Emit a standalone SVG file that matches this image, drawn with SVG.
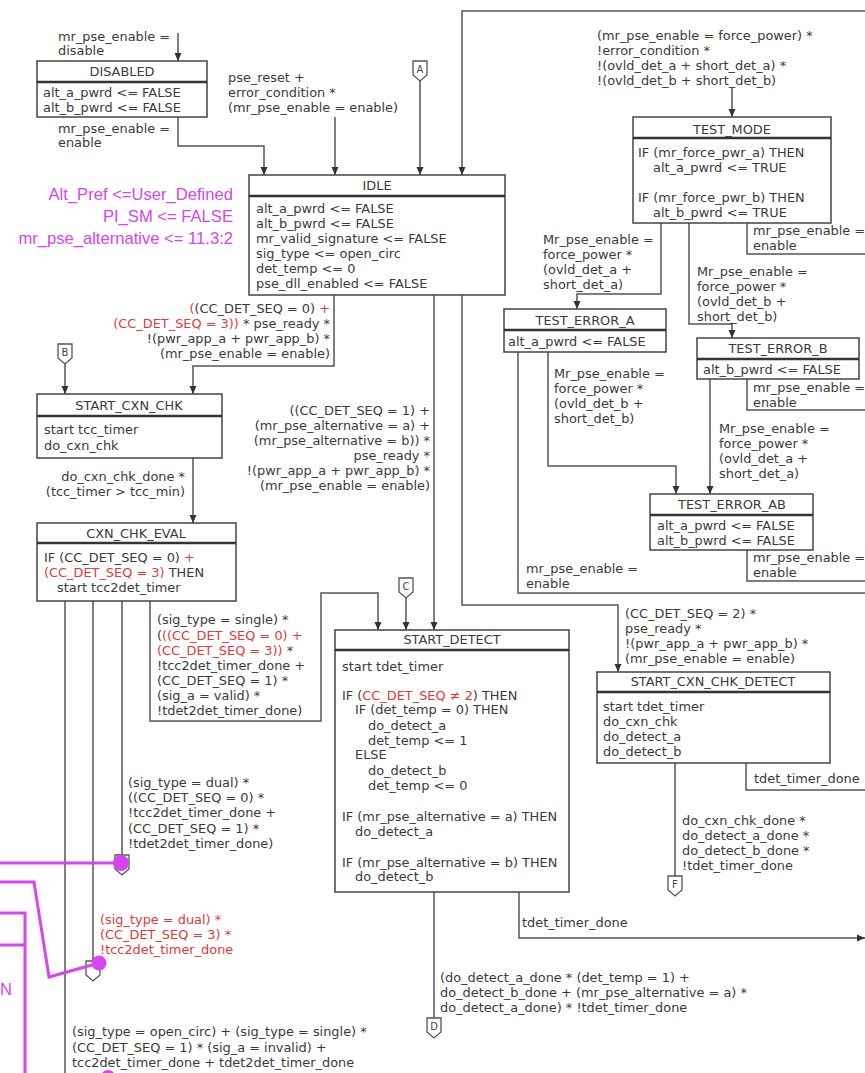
<svg xmlns="http://www.w3.org/2000/svg" width="865" height="1073" viewBox="0 0 865 1073">
<style>
.t{font-family:"DejaVu Sans",Verdana,sans-serif;font-size:12.9px;fill:#3a3a3a}
.c{text-anchor:middle}
.e{text-anchor:end}
.r{fill:#e03a3a}
.box{fill:#fff;stroke:#444;stroke-width:1.5}
.hd{stroke:#333;stroke-width:2.5}
.ln{fill:none;stroke:#555;stroke-width:1.5}
.cn{fill:#fff;stroke:#555;stroke-width:1.3}
.cl{font-family:"DejaVu Sans",Verdana,sans-serif;font-size:10px;fill:#444;text-anchor:middle}
.mg{fill:none;stroke:#d545f0;stroke-width:3}
.md{fill:#d545f0}
.mt{font-family:"Liberation Sans",Arial,sans-serif;font-size:16.6px;fill:#d545f0}
</style>
<defs>
<marker id="ah" viewBox="0 0 8 8" refX="8" refY="4" markerWidth="8" markerHeight="8" markerUnits="userSpaceOnUse" orient="auto"><path d="M0,0.5 L8,4 L0,7.5 z" fill="#333"/></marker>
</defs>
<rect width="865" height="1073" fill="#fff"/>

<g id="connectors">
<path class="ln" d="M178,33 V61" marker-end="url(#ah)"/>
<path class="ln" d="M178,117 V146 H264 V175" marker-end="url(#ah)"/>
<path class="ln" d="M335,117 V175" marker-end="url(#ah)"/>
<path class="ln" d="M420,81 V175" marker-end="url(#ah)"/>
<path class="ln" d="M865,11 H462 V175" marker-end="url(#ah)"/>
<path class="ln" d="M334,295 V366 H193 V394" marker-end="url(#ah)"/>
<path class="ln" d="M65,364 V394" marker-end="url(#ah)"/>
<path class="ln" d="M434,295 V630" marker-end="url(#ah)"/>
<path class="ln" d="M462,295 V605 H618 V672" marker-end="url(#ah)"/>
<path class="ln" d="M732,88 V117" marker-end="url(#ah)"/>
<path class="ln" d="M661,223 V294 H577 V309" marker-end="url(#ah)"/>
<path class="ln" d="M689,223 V324 H732 V338" marker-end="url(#ah)"/>
<path class="ln" d="M747,223 V254 H865"/>
<path class="ln" d="M518,352 V593 H865"/>
<path class="ln" d="M548,352 V466 H676 V494" marker-end="url(#ah)"/>
<path class="ln" d="M710,379 V494" marker-end="url(#ah)"/>
<path class="ln" d="M747,379 V410 H865"/>
<path class="ln" d="M747,550 V581 H865"/>
<path class="ln" d="M193,458 V523" marker-end="url(#ah)"/>
<path class="ln" d="M150,601 V721 H321 V593 H378 V630" marker-end="url(#ah)"/>
<path class="ln" d="M406,598 V630" marker-end="url(#ah)"/>
<path class="ln" d="M122,601 V855"/>
<path class="ln" d="M93,601 V961"/>
<path class="ln" d="M65,601 V1073"/>
<path class="ln" d="M434,892 V1018"/>
<path class="ln" d="M519,892 V938 H865" marker-end="url(#ah)"/>
<path class="ln" d="M675,763 V876"/>
<path class="ln" d="M746,763 V790 H865"/>
</g>

<g id="labels">
<text class="t" x="58" y="41">mr_pse_enable =</text>
<text class="t" x="58" y="55">disable</text>
<text class="t" x="58" y="133">mr_pse_enable =</text>
<text class="t" x="58" y="147">enable</text>
<text class="t" x="228" y="82">pse_reset +</text>
<text class="t" x="228" y="97">error_condition *</text>
<text class="t" x="228" y="112">(mr_pse_enable = enable)</text>
<text class="t" x="597" y="40">(mr_pse_enable = force_power) *</text>
<text class="t" x="597" y="55">!error_condition *</text>
<text class="t" x="597" y="70">!(ovld_det_a + short_det_a) *</text>
<text class="t" x="597" y="85">!(ovld_det_b + short_det_b)</text>
<text class="t" x="543" y="244">Mr_pse_enable =</text>
<text class="t" x="543" y="259">force_power *</text>
<text class="t" x="543" y="274">(ovld_det_a +</text>
<text class="t" x="543" y="289">short_det_a)</text>
<text class="t" x="753" y="235">mr_pse_enable =</text>
<text class="t" x="753" y="250">enable</text>
<text class="t" x="697" y="276">Mr_pse_enable =</text>
<text class="t" x="697" y="291">force_power *</text>
<text class="t" x="697" y="306">(ovld_det_b +</text>
<text class="t" x="697" y="321">short_det_b)</text>
<text class="t" x="554" y="378">Mr_pse_enable =</text>
<text class="t" x="554" y="393">force_power *</text>
<text class="t" x="554" y="408">(ovld_det_b +</text>
<text class="t" x="554" y="423">short_det_b)</text>
<text class="t" x="719" y="433">Mr_pse_enable =</text>
<text class="t" x="719" y="448">force_power *</text>
<text class="t" x="719" y="463">(ovld_det_a +</text>
<text class="t" x="719" y="478">short_det_a)</text>
<text class="t" x="753" y="392">mr_pse_enable =</text>
<text class="t" x="753" y="407">enable</text>
<text class="t" x="753" y="562">mr_pse_enable =</text>
<text class="t" x="753" y="577">enable</text>
<text class="t" x="526" y="573">mr_pse_enable =</text>
<text class="t" x="526" y="588">enable</text>
<text class="t" x="625" y="618">(CC_DET_SEQ = 2) *</text>
<text class="t" x="625" y="633">pse_ready *</text>
<text class="t" x="625" y="648">!(pwr_app_a + pwr_app_b) *</text>
<text class="t" x="625" y="663">(mr_pse_enable = enable)</text>
<text class="t e" x="330" y="313"><tspan class="r">(</tspan>(CC_DET_SEQ = 0) <tspan class="r">+</tspan></text>
<text class="t e" x="330" y="328"><tspan class="r">(CC_DET_SEQ = 3))</tspan> * pse_ready *</text>
<text class="t e" x="330" y="343">!(pwr_app_a + pwr_app_b) *</text>
<text class="t e" x="330" y="358">(mr_pse_enable = enable)</text>
<text class="t e" x="430" y="415">((CC_DET_SEQ = 1) +</text>
<text class="t e" x="430" y="430">(mr_pse_alternative = a) +</text>
<text class="t e" x="430" y="445">(mr_pse_alternative = b)) *</text>
<text class="t e" x="430" y="460">pse_ready *</text>
<text class="t e" x="430" y="475">!(pwr_app_a + pwr_app_b) *</text>
<text class="t e" x="430" y="490">(mr_pse_enable = enable)</text>
<text class="t e" x="185" y="481">do_cxn_chk_done *</text>
<text class="t e" x="185" y="496">(tcc_timer &gt; tcc_min)</text>
<text class="t" x="157" y="624">(sig_type = single) *</text>
<text class="t" x="157" y="640">(<tspan class="r">((CC_DET_SEQ = 0) +</tspan></text>
<text class="t" x="157" y="655"><tspan class="r">(CC_DET_SEQ = 3))</tspan> *</text>
<text class="t" x="157" y="670">!tcc2det_timer_done +</text>
<text class="t" x="157" y="685">(CC_DET_SEQ = 1) *</text>
<text class="t" x="157" y="700">(sig_a = valid) *</text>
<text class="t" x="157" y="715">!tdet2det_timer_done)</text>
<text class="t" x="128" y="787">(sig_type = dual) *</text>
<text class="t" x="128" y="802">((CC_DET_SEQ = 0) *</text>
<text class="t" x="128" y="817">!tcc2det_timer_done +</text>
<text class="t" x="128" y="833">(CC_DET_SEQ = 1) *</text>
<text class="t" x="128" y="848">!tdet2det_timer_done)</text>
<text class="t r" x="100" y="924">(sig_type = dual) *</text>
<text class="t r" x="100" y="939">(CC_DET_SEQ = 3) *</text>
<text class="t r" x="100" y="954">!tcc2det_timer_done</text>
<text class="t" x="72" y="1036">(sig_type = open_circ) + (sig_type = single) *</text>
<text class="t" x="72" y="1052">(CC_DET_SEQ = 1) * (sig_a = invalid) +</text>
<text class="t" x="72" y="1067">tcc2det_timer_done + tdet2det_timer_done</text>
<text class="t" x="682" y="825">do_cxn_chk_done *</text>
<text class="t" x="682" y="840">do_detect_a_done *</text>
<text class="t" x="682" y="855">do_detect_b_done *</text>
<text class="t" x="682" y="870">!tdet_timer_done</text>
<text class="t" x="754" y="783">tdet_timer_done</text>
<text class="t" x="522" y="927">tdet_timer_done</text>
<text class="t" x="440" y="982">(do_detect_a_done * (det_temp = 1) +</text>
<text class="t" x="440" y="997">do_detect_b_done + (mr_pse_alternative = a) *</text>
<text class="t" x="440" y="1012">do_detect_a_done) * !tdet_timer_done</text>
</g>

<g id="DISABLED">
<rect class="box" x="37" y="61" width="170" height="56"/>
<line class="hd" x1="37" y1="82" x2="207" y2="82"/>
<text class="t c" x="122" y="76">DISABLED</text>
<text class="t" x="43" y="97">alt_a_pwrd &lt;= FALSE</text>
<text class="t" x="43" y="112">alt_b_pwrd &lt;= FALSE</text>
</g>

<g id="IDLE">
<rect class="box" x="249" y="175" width="256" height="120"/>
<line class="hd" x1="249" y1="196" x2="505" y2="196"/>
<text class="t c" x="377" y="190">IDLE</text>
<text class="t" x="256" y="213">alt_a_pwrd &lt;= FALSE</text>
<text class="t" x="256" y="228">alt_b_pwrd &lt;= FALSE</text>
<text class="t" x="256" y="243">mr_valid_signature &lt;= FALSE</text>
<text class="t" x="256" y="258">sig_type &lt;= open_circ</text>
<text class="t" x="256" y="273">det_temp &lt;= 0</text>
<text class="t" x="256" y="288">pse_dll_enabled &lt;= FALSE</text>
</g>

<g id="TEST_MODE">
<rect class="box" x="633" y="117" width="198" height="106"/>
<line class="hd" x1="633" y1="138" x2="831" y2="138"/>
<text class="t c" x="732" y="134">TEST_MODE</text>
<text class="t" x="638" y="157">IF (mr_force_pwr_a) THEN</text>
<text class="t" x="653" y="172">alt_a_pwrd &lt;= TRUE</text>
<text class="t" x="638" y="202">IF (mr_force_pwr_b) THEN</text>
<text class="t" x="653" y="217">alt_b_pwrd &lt;= TRUE</text>
</g>

<g id="TEST_ERROR_A">
<rect class="box" x="504" y="309" width="162" height="43"/>
<line class="hd" x1="504" y1="330" x2="666" y2="330"/>
<text class="t c" x="585" y="325">TEST_ERROR_A</text>
<text class="t" x="508" y="346">alt_a_pwrd &lt;= FALSE</text>
</g>

<g id="TEST_ERROR_B">
<rect class="box" x="697" y="338" width="162" height="41"/>
<line class="hd" x1="697" y1="359" x2="859" y2="359"/>
<text class="t c" x="778" y="353">TEST_ERROR_B</text>
<text class="t" x="703" y="374">alt_b_pwrd &lt;= FALSE</text>
</g>

<g id="TEST_ERROR_AB">
<rect class="box" x="650" y="494" width="163" height="56"/>
<line class="hd" x1="650" y1="515" x2="813" y2="515"/>
<text class="t c" x="732" y="509">TEST_ERROR_AB</text>
<text class="t" x="657" y="530">alt_a_pwrd &lt;= FALSE</text>
<text class="t" x="657" y="545">alt_b_pwrd &lt;= FALSE</text>
</g>

<g id="START_CXN_CHK">
<rect class="box" x="37" y="394" width="185" height="64"/>
<line class="hd" x1="37" y1="416" x2="222" y2="416"/>
<text class="t c" x="129" y="410">START_CXN_CHK</text>
<text class="t" x="44" y="434">start tcc_timer</text>
<text class="t" x="44" y="450">do_cxn_chk</text>
</g>

<g id="CXN_CHK_EVAL">
<rect class="box" x="37" y="523" width="199" height="78"/>
<line class="hd" x1="37" y1="543" x2="236" y2="543"/>
<text class="t c" x="136" y="538">CXN_CHK_EVAL</text>
<text class="t" x="44" y="562">IF (CC_DET_SEQ = 0) <tspan class="r">+</tspan></text>
<text class="t" x="44" y="577"><tspan class="r">(CC_DET_SEQ = 3)</tspan> THEN</text>
<text class="t" x="57" y="592">start tcc2det_timer</text>
</g>

<g id="START_DETECT">
<rect class="box" x="335" y="630" width="234" height="262"/>
<line class="hd" x1="335" y1="650" x2="569" y2="650"/>
<text class="t c" x="452" y="644">START_DETECT</text>
<text class="t" x="342" y="671">start tdet_timer</text>
<text class="t" x="342" y="700">IF (<tspan class="r">CC_DET_SEQ ≠ 2</tspan>) THEN</text>
<text class="t" x="355" y="714">IF (det_temp = 0) THEN</text>
<text class="t" x="368" y="730">do_detect_a</text>
<text class="t" x="368" y="745">det_temp &lt;= 1</text>
<text class="t" x="355" y="759">ELSE</text>
<text class="t" x="368" y="775">do_detect_b</text>
<text class="t" x="368" y="790">det_temp &lt;= 0</text>
<text class="t" x="342" y="821">IF (mr_pse_alternative = a) THEN</text>
<text class="t" x="355" y="836">do_detect_a</text>
<text class="t" x="342" y="867">IF (mr_pse_alternative = b) THEN</text>
<text class="t" x="355" y="881">do_detect_b</text>
</g>

<g id="START_CXN_CHK_DETECT">
<rect class="box" x="597" y="672" width="233" height="91"/>
<line class="hd" x1="597" y1="692" x2="830" y2="692"/>
<text class="t c" x="713" y="686">START_CXN_CHK_DETECT</text>
<text class="t" x="603" y="711">start tdet_timer</text>
<text class="t" x="603" y="726">do_cxn_chk</text>
<text class="t" x="603" y="741">do_detect_a</text>
<text class="t" x="603" y="756">do_detect_b</text>
</g>

<g id="conn_A"><path class="cn" d="M413,61 H427 V75 L420,81 L413,75 Z"/><text class="cl" x="420" y="73">A</text></g>
<g id="conn_B"><path class="cn" d="M58,344 H72 V358 L65,364 L58,358 Z"/><text class="cl" x="65" y="356">B</text></g>
<g id="conn_C"><path class="cn" d="M399,578 H413 V592 L406,598 L399,592 Z"/><text class="cl" x="406" y="590">C</text></g>
<g id="conn_D"><path class="cn" d="M427,1018 H441 V1032 L434,1038 L427,1032 Z"/><text class="cl" x="434" y="1030">D</text></g>
<g id="conn_F"><path class="cn" d="M668,876 H682 V890 L675,896 L668,890 Z"/><text class="cl" x="675" y="888">F</text></g>
<g id="conn_1"><path class="cn" d="M115,855 H129 V869 L122,875 L115,869 Z"/></g>
<g id="conn_2"><path class="cn" d="M86,961 H100 V975 L93,981 L86,975 Z"/></g>

<g id="annotations">
<text class="mt e" x="233" y="200">Alt_Pref &lt;=User_Defined</text>
<text class="mt e" x="233" y="222">PI_SM &lt;= FALSE</text>
<text class="mt e" x="233" y="244">mr_pse_alternative &lt;= 11.3:2</text>
<text class="mt" x="0" y="995">N</text>
<path class="mg" d="M0,863 H121"/>
<path class="mg" d="M0,882 H34 L49,977 L99,963"/>
<path class="mg" d="M0,913 H25 V1073 M0,945 H25"/>
<circle class="md" cx="121" cy="863" r="8"/>
<circle class="md" cx="99" cy="963" r="7.5"/>
<circle class="md" cx="108" cy="1077" r="7"/>
</g>
</svg>
